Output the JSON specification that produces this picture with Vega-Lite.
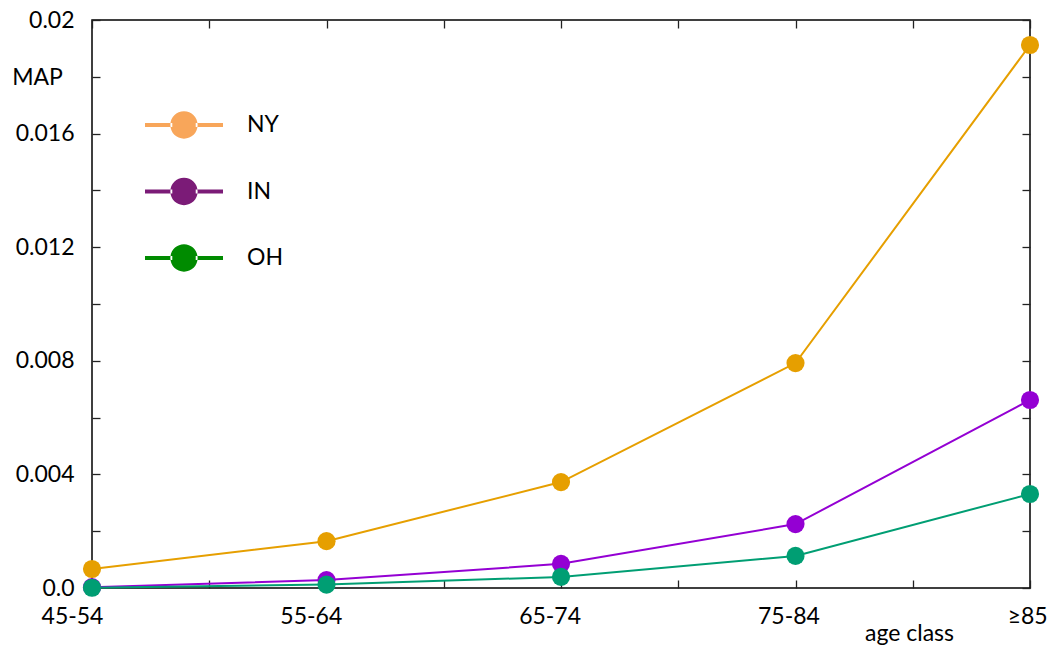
{
  "$schema": "https://vega.github.io/schema/vega-lite/v6.json",
  "width": 938,
  "height": 568,
  "autosize": "none",
  "padding": {"left": 92, "top": 20, "right": 23, "bottom": 63},
  "background": "white",
  "config": {
    "view": {"stroke": "#000", "strokeWidth": 1.5},
    "font": "Lato",
    "axis": {
      "grid": false,
      "domain": false,
      "tickColor": "#222",
      "tickWidth": 1.3,
      "tickSize": -8,
      "labelFont": "Lato",
      "labelFontSize": 23,
      "labelColor": "#000",
      "titleFont": "Lato",
      "titleFontSize": 23,
      "titleFontWeight": "normal",
      "titleColor": "#000"
    }
  },
  "data": {
    "values": [
      {"state": "NY", "age": "45-54", "i": 0, "map": 0.00067},
      {"state": "NY", "age": "55-64", "i": 1, "map": 0.00165},
      {"state": "NY", "age": "65-74", "i": 2, "map": 0.00373},
      {"state": "NY", "age": "75-84", "i": 3, "map": 0.00792},
      {"state": "NY", "age": "≥85", "i": 4, "map": 0.01912},
      {"state": "IN", "age": "45-54", "i": 0, "map": 0.00003},
      {"state": "IN", "age": "55-64", "i": 1, "map": 0.00028},
      {"state": "IN", "age": "65-74", "i": 2, "map": 0.00085},
      {"state": "IN", "age": "75-84", "i": 3, "map": 0.00225},
      {"state": "IN", "age": "≥85", "i": 4, "map": 0.00662},
      {"state": "OH", "age": "45-54", "i": 0, "map": 0.00001},
      {"state": "OH", "age": "55-64", "i": 1, "map": 0.00012},
      {"state": "OH", "age": "65-74", "i": 2, "map": 0.00039},
      {"state": "OH", "age": "75-84", "i": 3, "map": 0.00113},
      {"state": "OH", "age": "≥85", "i": 4, "map": 0.00331}
    ]
  },
  "layer": [
    {
      "mark": {"type": "line", "strokeWidth": 2},
      "encoding": {
        "x": {
          "field": "i", "type": "quantitative",
          "scale": {"domain": [0, 4], "nice": false},
          "axis": {
            "orient": "bottom",
            "values": [0, 0.5, 1, 1.5, 2, 2.5, 3, 3.5, 4],
            "labelExpr": "datum.value % 1 == 0 ? ['45-54','55-64','65-74','75-84','≥85'][datum.value] : ''",
            "labelOffset": {"expr": "-20 + datum.value * 4.3"},
            "labelPadding": 25,
            "labelFlush": false,
            "labelOverlap": false,
            "title": "age class",
            "titleX": 817,
            "titleY": 45,
            "titleAlign": "center",
            "titleBaseline": "middle"
          }
        },
        "y": {
          "field": "map", "type": "quantitative",
          "scale": {"domain": [0, 0.02], "nice": false},
          "axis": {
            "orient": "left",
            "values": [0, 0.002, 0.004, 0.006, 0.008, 0.01, 0.012, 0.014, 0.016, 0.018, 0.02],
            "labelExpr": "datum.value == 0 ? '0.0' : (round(datum.value * 1000) % 4 == 0 ? format(datum.value, '~g') : '')",
            "labelPadding": 26,
            "labelOverlap": false,
            "labelFlush": false,
            "title": "MAP",
            "titleAngle": 0,
            "titleX": -55,
            "titleY": 57,
            "titleAlign": "center",
            "titleBaseline": "middle"
          }
        },
        "color": {
          "field": "state", "type": "nominal",
          "scale": {"domain": ["NY", "IN", "OH"], "range": ["#e69f00", "#9400d3", "#009e73"]},
          "legend": null
        }
      }
    },
    {
      "mark": {"type": "point", "filled": true, "size": 330, "opacity": 1},
      "encoding": {
        "x": {
          "field": "i", "type": "quantitative",
          "axis": {"orient": "top", "values": [0, 0.5, 1, 1.5, 2, 2.5, 3, 3.5, 4], "labels": false, "title": null}
        },
        "y": {
          "field": "map", "type": "quantitative",
          "axis": {"orient": "right", "values": [0, 0.002, 0.004, 0.006, 0.008, 0.01, 0.012, 0.014, 0.016, 0.018, 0.02], "labels": false, "title": null}
        },
        "color": {
          "field": "state", "type": "nominal",
          "scale": {"domain": ["NY", "IN", "OH"], "range": ["#e69f00", "#9400d3", "#009e73"]},
          "legend": null
        }
      }
    },
    {
      "transform": [{"filter": "false"}],
      "mark": {"type": "point", "filled": true},
      "encoding": {
        "x": {"field": "i", "type": "quantitative", "axis": null},
        "y": {"field": "map", "type": "quantitative", "axis": null},
        "color": {
          "field": "state", "type": "nominal",
          "scale": {"domain": ["NY", "IN", "OH"], "range": ["#f8a65a", "#7b1b77", "#008b00"]},
          "legend": {
            "orient": "none",
            "legendX": 53,
            "legendY": 66,
            "title": null,
            "symbolType": "M-1,-0.05H-0.3V0.05H-1Z M0.3,-0.05H1V0.05H0.3Z M-0.35,0A0.35,0.35 0 1,0 0.35,0A0.35,0.35 0 1,0 -0.35,0Z",
            "symbolSize": 6084,
            "symbolStrokeWidth": 0,
            "symbolOpacity": 1,
            "labelFont": "Lato",
            "labelFontSize": 23,
            "labelColor": "#000",
            "labelOffset": 24,
            "rowPadding": 13.5
          }
        }
      }
    }
  ],
  "resolve": {
    "scale": {"color": "independent"},
    "axis": {"x": "independent", "y": "independent"}
  }
}
